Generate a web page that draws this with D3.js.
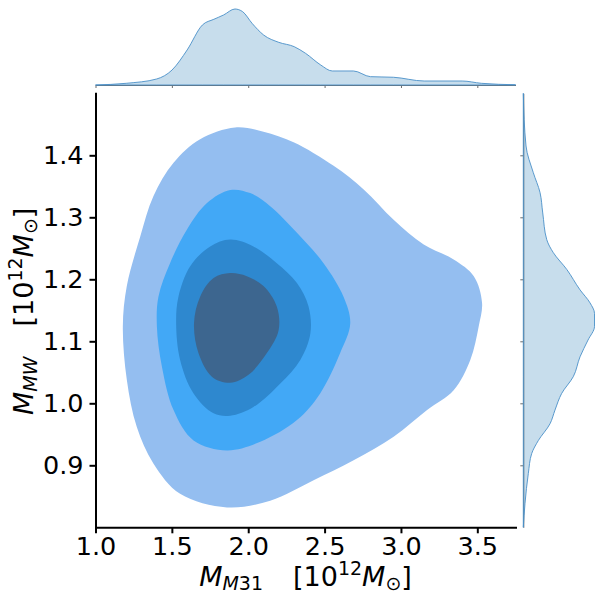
<!DOCTYPE html>
<html>
<head>
<meta charset="utf-8">
<script src="https://cdn.jsdelivr.net/npm/d3@7"></script>
<style>
  body { margin: 0; background: #fff; }
  text { font-family: "DejaVu Sans", sans-serif; }
</style>
</head>
<body>
<div id="chart"></div>
<script>
// tick values (shared by the marginals)
var xTicks = [1.0, 1.5, 2.0, 2.5, 3.0, 3.5];
var yTicks = [0.9, 1.0, 1.1, 1.2, 1.3, 1.4];
var xLimits = [1.0, 3.75];
var yLimits = [0.8, 1.5];

// kde contour outlines as [M_M31, M_MW] pairs, outermost first
var level1 = [
    [1.914, 1.445], [1.685, 1.426], [1.511, 1.388], [1.379, 1.334], [1.293, 1.269],
    [1.205, 1.189], [1.179, 1.124], [1.205, 1.038], [1.270, 0.962], [1.379, 0.903],
    [1.554, 0.854], [1.861, 0.832], [2.144, 0.843], [2.428, 0.876], [2.690, 0.908],
    [2.952, 0.946], [3.171, 0.989], [3.345, 1.021], [3.454, 1.070], [3.509, 1.124],
    [3.531, 1.162], [3.477, 1.205], [3.345, 1.232], [3.149, 1.256], [2.952, 1.296],
    [2.756, 1.345], [2.559, 1.383], [2.297, 1.421], [2.100, 1.438]
];
var level2 = [
    [1.882, 1.344], [1.730, 1.323], [1.598, 1.280], [1.488, 1.226], [1.412, 1.172],
    [1.402, 1.124], [1.435, 1.059], [1.511, 0.989], [1.642, 0.940], [1.861, 0.924],
    [2.079, 0.938], [2.319, 0.973], [2.471, 1.016], [2.602, 1.081], [2.668, 1.129],
    [2.624, 1.172], [2.493, 1.226], [2.319, 1.275], [2.144, 1.318], [2.013, 1.339]
];
var level3 = [
    [1.882, 1.264], [1.751, 1.253], [1.620, 1.221], [1.543, 1.172], [1.528, 1.129],
    [1.554, 1.070], [1.642, 1.016], [1.773, 0.984], [1.882, 0.980], [2.034, 0.994],
    [2.210, 1.032], [2.341, 1.070], [2.407, 1.113], [2.395, 1.156], [2.319, 1.194],
    [2.187, 1.226], [2.034, 1.253]
];
var level4 = [
    [1.882, 1.210], [1.773, 1.202], [1.685, 1.172], [1.645, 1.129], [1.674, 1.081],
    [1.762, 1.043], [1.882, 1.033], [2.002, 1.046], [2.122, 1.081], [2.199, 1.118],
    [2.187, 1.156], [2.100, 1.189], [1.991, 1.205]
];
var levels = [level1, level2, level3, level4];
var levelColors = ["#94bef0", "#42a8f6", "#2e88cf", "#3d668f"];

// marginal densities
var topGrid = [1.000, 1.201, 1.401, 1.501, 1.600, 1.700, 1.775, 1.839, 1.913, 1.964,
    2.025, 2.101, 2.200, 2.301, 2.375, 2.475, 2.550, 2.689, 2.800, 2.951,
    3.152, 3.401, 3.526, 3.750];
var topDensity = [0.000, 0.020, 0.071, 0.176, 0.412, 0.706, 0.773, 0.824, 0.894, 0.862,
    0.726, 0.588, 0.502, 0.451, 0.373, 0.235, 0.165, 0.165, 0.098, 0.091,
    0.047, 0.047, 0.020, 0.003];
var rightGrid = [1.500, 1.415, 1.372, 1.340, 1.307, 1.264, 1.243, 1.216, 1.183, 1.162,
    1.145, 1.124, 1.102, 1.075, 1.043, 1.016, 0.989, 0.967, 0.940, 0.919,
    0.887, 0.838, 0.800];
var rightDensity = [0.000, 0.034, 0.125, 0.209, 0.243, 0.293, 0.375, 0.543, 0.709, 0.834,
    0.890, 0.890, 0.809, 0.709, 0.625, 0.480, 0.396, 0.334, 0.188, 0.105,
    0.063, 0.021, 0.000];

var svgWidth = 595;
var svgHeight = 596;

var main = { left: 95.5, right: 515.5, top: 93.3, bottom: 527.3 };
var topBase = 85;
var rightBase = 523.3;

var svg = d3
    .select("#chart")
    .append("svg")
    .attr("width", svgWidth)
    .attr("height", svgHeight);

// scales
var xScale = d3.scaleLinear().domain(xLimits).range([main.left, main.right]);
var yScale = d3.scaleLinear().domain(yLimits).range([main.bottom, main.top]);
var topScale = d3.scaleLinear().domain([0, 1]).range([topBase, 0]);
var rightScale = d3.scaleLinear().domain([0, 1]).range([rightBase, rightBase + 80]);

// filled contours
var contourLine = d3
    .line()
    .x((d) => xScale(d[0]))
    .y((d) => yScale(d[1]))
    .curve(d3.curveCatmullRomClosed.alpha(0.5));

svg.append("g")
    .selectAll("path")
    .data(levels)
    .join("path")
    .attr("d", contourLine)
    .attr("fill", (d, i) => levelColors[i])
    .attr("stroke", "none");

// marginal axes (thin grey spines, no labels)
var topAxis = svg
    .append("g")
    .attr("transform", `translate(0, ${topBase})`)
    .call(d3.axisBottom(xScale).tickValues(xTicks).tickSize(3).tickSizeOuter(0).tickFormat(""));
var rightAxis = svg
    .append("g")
    .attr("transform", `translate(${rightBase}, 0)`)
    .call(d3.axisLeft(yScale).tickValues(yTicks).tickSize(3).tickSizeOuter(0).tickFormat(""));
[topAxis, rightAxis].forEach(function(g) {
    g.selectAll("path, line").attr("stroke", "#6b6b6b").attr("stroke-width", 1);
});

// marginal kde areas
var topData = topGrid.map((v, i) => [v, topDensity[i]]);
var rightData = rightGrid.map((v, i) => [v, rightDensity[i]]);

svg.append("path")
    .datum(topData)
    .attr("d", d3.area()
        .x((d) => xScale(d[0]))
        .y0(topScale(0))
        .y1((d) => topScale(d[1]))
        .curve(d3.curveMonotoneX))
    .attr("fill", "#1f77b4")
    .attr("fill-opacity", 0.25)
    .attr("stroke", "#4a90c8")
    .attr("stroke-width", 0.9);

svg.append("path")
    .datum(rightData)
    .attr("d", d3.area()
        .y((d) => yScale(d[0]))
        .x0(rightScale(0))
        .x1((d) => rightScale(d[1]))
        .curve(d3.curveMonotoneY))
    .attr("fill", "#1f77b4")
    .attr("fill-opacity", 0.25)
    .attr("stroke", "#4a90c8")
    .attr("stroke-width", 0.9);

// main axes
var fmt = d3.format(".1f");
var xAxis = svg
    .append("g")
    .attr("transform", `translate(0, ${main.bottom})`)
    .call(d3.axisBottom(xScale).tickValues(xTicks).tickFormat(fmt).tickSize(6).tickSizeOuter(0).tickPadding(4));
var yAxis = svg
    .append("g")
    .attr("transform", `translate(${main.left}, 0)`)
    .call(d3.axisLeft(yScale).tickValues(yTicks).tickFormat(fmt).tickSize(6).tickSizeOuter(0).tickPadding(6));
[xAxis, yAxis].forEach(function(g) {
    g.selectAll("path, line").attr("stroke", "#000").attr("stroke-width", 2);
    g.select(".domain").attr("stroke-linecap", "square");
    g.selectAll("text")
        .attr("fill", "#000")
        .attr("font-size", 25.5)
        .attr("font-family", "DejaVu Sans");
});

// axis labels with math-style sub/superscripts
function mathLabel(textSel, subParts) {
    textSel.append("tspan").attr("font-size", 27).attr("font-style", "italic").text("M");
    subParts.forEach(function(p, i) {
        textSel.append("tspan")
            .attr("font-size", 19)
            .attr("font-style", p.italic ? "italic" : "normal")
            .attr("dy", i == 0 ? 4 : 0)
            .text(p.t);
    });
    textSel.append("tspan").attr("font-size", 27).attr("dy", -4).attr("dx", 30).text("[10");
    textSel.append("tspan").attr("font-size", 19).attr("dy", -11).text("12");
    textSel.append("tspan").attr("font-size", 27).attr("font-style", "italic").attr("dy", 11).text("M");
    textSel.append("tspan").attr("font-size", 19).attr("dy", 4).text("\u2299");
    textSel.append("tspan").attr("font-size", 27).attr("dy", -4).text("]");
}

var xLabel = svg
    .append("text")
    .attr("x", (main.left + main.right) / 2)
    .attr("y", 586)
    .attr("text-anchor", "middle")
    .attr("fill", "#000");
mathLabel(xLabel, [{ t: "M", italic: true }, { t: "31", italic: false }]);

var yLabel = svg
    .append("text")
    .attr("transform", `translate(33, ${(main.top + main.bottom) / 2 + 1}) rotate(-90)`)
    .attr("text-anchor", "middle")
    .attr("fill", "#000");
mathLabel(yLabel, [{ t: "MW", italic: true }]);
</script>
</body>
</html>
